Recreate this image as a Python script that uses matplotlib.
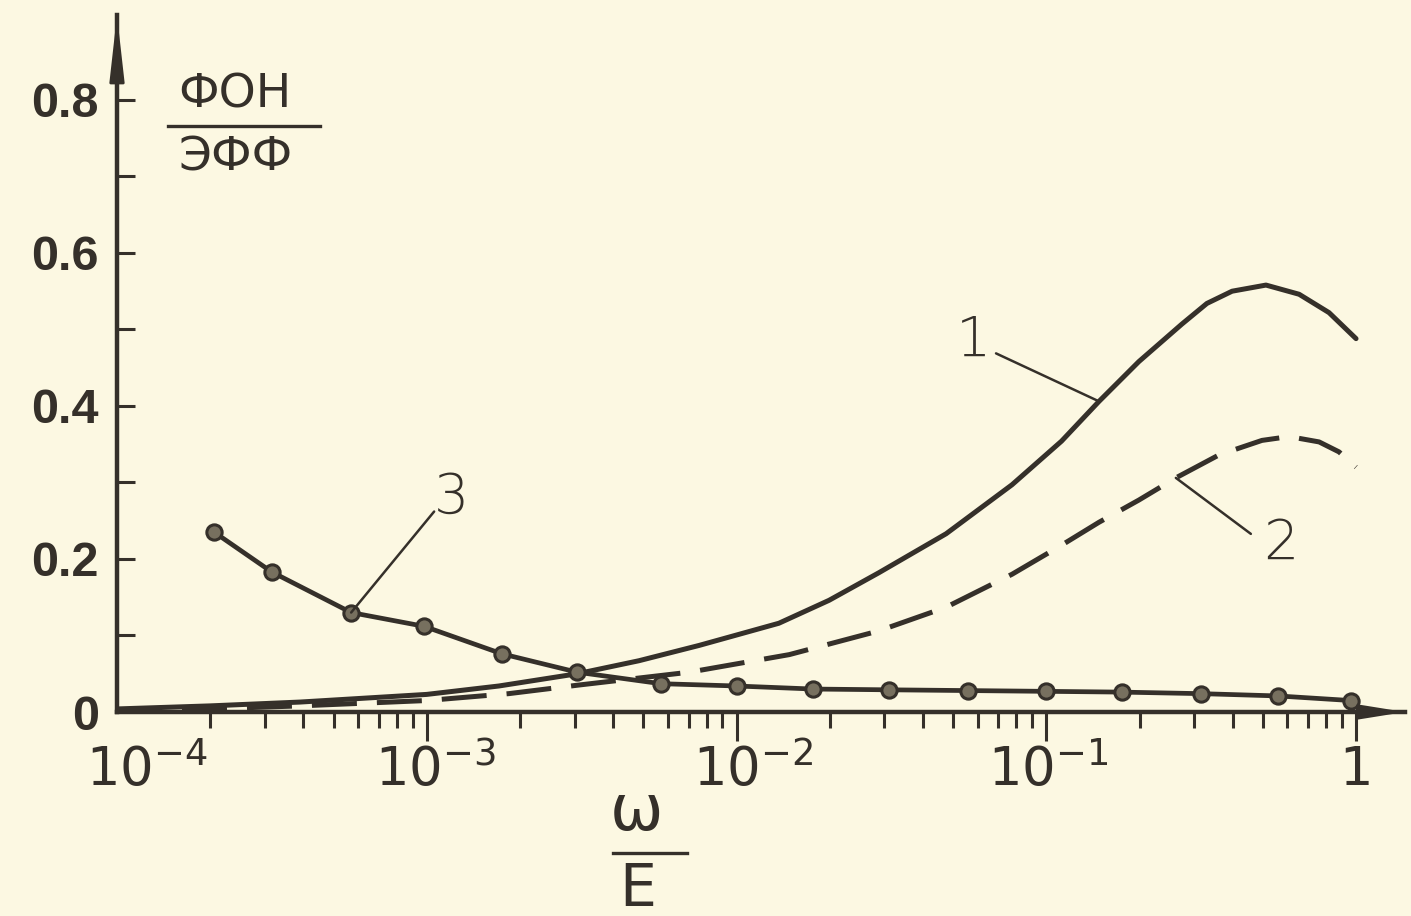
import matplotlib
matplotlib.use("Agg")
from matplotlib import pyplot as plt
from matplotlib.lines import Line2D
from matplotlib.transforms import ScaledTranslation
from matplotlib.ticker import FixedLocator, LogLocator, NullFormatter

# curve 1 (solid)
c1_x = [1.0e-4, 2.0e-4, 3.9e-4, 1.0e-3, 1.71e-3, 3.06e-3, 4.84e-3, 7.57e-3, 1.37e-2, 1.99e-2,
        2.88e-2, 4.75e-2, 7.75e-2, 0.112, 0.148, 0.199, 0.274, 0.33, 0.398, 0.512, 0.655,
        0.818, 1.0]
c1_y = [0.004, 0.008, 0.013, 0.023, 0.034, 0.05, 0.067, 0.087, 0.116, 0.146,
        0.182, 0.233, 0.297, 0.354, 0.406, 0.458, 0.507, 0.534, 0.55, 0.558, 0.546,
        0.522, 0.488]

# curve 2 (dashed)
c2_x = [1.0e-4, 2.0e-4, 3.9e-4, 1.0e-3, 1.84e-3, 3.06e-3, 7.03e-3, 1.48e-2, 2.88e-2, 4.75e-2,
        7.75e-2, 0.112, 0.148, 0.199, 0.262, 0.361, 0.497, 0.608, 0.76, 0.881, 1.0]
c2_y = [0.002, 0.004, 0.008, 0.015, 0.024, 0.035, 0.052, 0.075, 0.106, 0.137,
        0.18, 0.218, 0.248, 0.277, 0.306, 0.336, 0.355, 0.36, 0.353, 0.34, 0.32]

# curve 3 (points)
c3_x = [2.06e-4, 3.16e-4, 5.7e-4, 9.8e-4, 1.75e-3, 3.06e-3, 5.7e-3, 1.0e-2,
        1.77e-2, 3.1e-2, 5.6e-2, 0.1, 0.175, 0.315, 0.56, 0.96]
c3_y = [0.235, 0.183, 0.13, 0.112, 0.076, 0.052, 0.037, 0.034,
        0.030, 0.029, 0.028, 0.027, 0.026, 0.024, 0.021, 0.015]

xticks = [1e-4, 1e-3, 1e-2, 1e-1, 1]
xticklabels = [r'$10^{-4}$', r'$10^{-3}$', r'$10^{-2}$', r'$10^{-1}$', '1']
yticks = [0, 0.2, 0.4, 0.6, 0.8]
yticklabels = ['0', '0.2', '0.4', '0.6', '0.8']

ink = '#35302a'
paper = '#fcf8e2'
W, H = 1411, 916

fig = plt.figure(figsize=(W/100, H/100), dpi=100, facecolor=paper)
ax = fig.add_axes([117/W, (H-712)/H, (1405-117)/W, (712-15)/H])
ax.set_facecolor(paper)

ax.plot(c1_x, c1_y, color=ink, lw=3.6, solid_capstyle='round', solid_joinstyle='round')
ax.plot(c2_x, c2_y, color=ink, lw=3.6, dashes=(9, 4))
ax.plot(c3_x, c3_y, color=ink, lw=3.4, marker='o', ms=11,
        mfc='#77705f', mec=ink, mew=2.2)

ax.set_xscale('log')
ax.set_xlim(1e-4, 1.439)
ax.set_ylim(0, 0.911)

for s in ['top', 'right']:
    ax.spines[s].set_visible(False)
for s in ['left', 'bottom']:
    ax.spines[s].set_linewidth(3.2)
    ax.spines[s].set_color(ink)

ax.xaxis.set_major_locator(FixedLocator(xticks))
ax.set_xticklabels(xticklabels)
ax.xaxis.set_minor_locator(LogLocator(base=10, subs=range(2, 10)))
ax.xaxis.set_minor_formatter(NullFormatter())
ax.set_yticks(yticks)
ax.set_yticklabels(yticklabels)
ax.set_yticks([0.1, 0.3, 0.5, 0.7], minor=True)

ax.tick_params(axis='x', which='major', direction='out', length=21, width=2.2,
               pad=2, labelsize=38, colors=ink)
ax.tick_params(axis='x', which='minor', direction='out', length=11.5, width=2.2, colors=ink)
ax.tick_params(axis='y', which='both', direction='in', length=13, width=2.2,
               pad=13, labelsize=35, colors=ink)
ax.xaxis.get_major_ticks()[0].tick1line.set_visible(False)
ax.yaxis.get_major_ticks()[0].tick1line.set_visible(False)
for lab in ax.get_yticklabels():
    lab.set_fontweight('bold')
    lab.set_family(['Liberation Sans', 'DejaVu Sans'])

# labels sit a bit right of their ticks in the original
label_dx = [30, 9, 17, 2, 0]
for lab, dx in zip(ax.get_xticklabels(), label_dx):
    lab.set_transform(lab.get_transform() + ScaledTranslation(dx/100, 0, fig.dpi_scale_trans))

# arrow heads on axes
ax.annotate('', xy=(0, 1), xytext=(0, 0.9), xycoords='axes fraction',
            arrowprops=dict(arrowstyle='-|>,head_length=4.0,head_width=0.45',
                            lw=2, color=ink, shrinkA=0, shrinkB=0, mutation_scale=10))
ax.annotate('', xy=(1, 0), xytext=(0.95, 0), xycoords='axes fraction',
            arrowprops=dict(arrowstyle='-|>,head_length=2.8,head_width=0.45',
                            lw=2, color=ink, shrinkA=0, shrinkB=0, mutation_scale=10))

# curve numbers with leader lines
marks = [('1', c1_x[14], c1_y[14], (-103, 48), (-125, 60)),
         ('2', c2_x[14], c2_y[14], (75, -56), (105, -66)),
         ('3', c3_x[2], c3_y[2], (83, 101), (100, 115))]
for txt, xv, yv, lead, pos in marks:
    ax.annotate('', xy=(xv, yv), xytext=lead, textcoords='offset pixels',
                arrowprops=dict(arrowstyle='-', lw=1.8, color=ink, shrinkA=0, shrinkB=0))
    ax.annotate(txt, xy=(xv, yv), xytext=pos, textcoords='offset pixels',
                ha='center', va='center', fontsize=40, color=ink, fontweight='light')

# axis labels as fractions
fig.text(235/W, 1-95/H, 'ФОН', ha='center', va='center', fontsize=34, color=ink)
fig.text(236/W, 1-158/H, 'ЭФФ', ha='center', va='center', fontsize=34, color=ink)
fig.add_artist(Line2D([168/W, 320/W], [1-126/H, 1-126/H], lw=2.4, color=ink))

fig.text(636/W, 1-812/H, 'ω', ha='center', va='center', fontsize=46, color=ink)
fig.text(638/W, 1-890/H, 'E', ha='center', va='center', fontsize=42, color=ink)
fig.add_artist(Line2D([613/W, 687/W], [1-853/H, 1-853/H], lw=2.4, color=ink))

fig.savefig('out.png', dpi=100, facecolor=paper)
